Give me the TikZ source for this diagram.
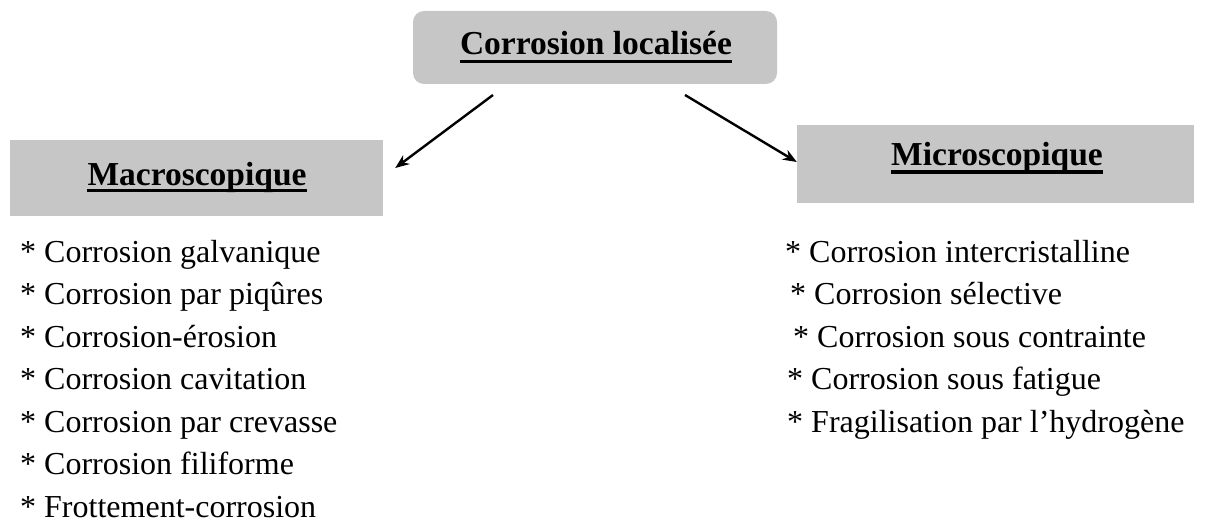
\documentclass[tikz,border=0pt]{standalone}
\usepackage{fontspec}
\setmainfont{Liberation Serif}
\usetikzlibrary{arrows.meta,calc}
\definecolor{boxgray}{RGB}{198,198,198}
\tikzset{
  graybox/.style={fill=boxgray,draw=none,inner sep=0pt},
  headtext/.style={inner sep=0pt,anchor=base,font=\fontsize{33.5}{38}\selectfont\bfseries},
  itemtext/.style={inner sep=0pt,anchor=base west,font=\fontsize{32}{36}\selectfont},
  uline/.style={line width=3.5pt},
  conn/.style={line width=2.4pt,-{Stealth[length=14pt,width=11pt]}}
}
\begin{document}
\begin{tikzpicture}[x=1pt,y=-1pt]
\useasboundingbox (0,0) rectangle (1207,532);
% boxes
\path[graybox,rounded corners=11pt] (413,11) rectangle (777,84);
\node[graybox,minimum width=373pt,minimum height=76pt] (macro) at (196.5,178) {};
\node[graybox,minimum width=397pt,minimum height=78pt] (micro) at (995.5,164) {};
\coordinate (topbox) at (595,47.5);
% headings
\node[headtext] (title) at (596,55) {Corrosion localisée};
\node[headtext] (macrot) at (197,185) {Macroscopique};
\node[headtext] (microt) at (997,165) {Microscopique};
\draw[uline] ($(title.base west)+(0,6.5)$) -- ($(title.base east)+(0,6.5)$);
\draw[uline] ($(macrot.base west)+(0,5.5)$) -- ($(macrot.base east)+(0,5.5)$);
\draw[uline] ($(microt.base west)+(0,7)$) -- ($(microt.base east)+(0,7)$);
% connectors
\coordinate (s1) at ($(topbox)+(-102,47.5)$);
\coordinate (s2) at ($(topbox)+(90,47.5)$);
\coordinate (e1) at ($(macro.east)+(12,-10)$);
\draw[conn] (s1) -- (e1);
\draw[conn] (s2) -- ($(micro.west)+(0,-2)$);
% left list
\node[itemtext] (l1) at (20,262) {* Corrosion galvanique};
\node[itemtext] (l2) at (20,304.5) {* Corrosion par piqûres};
\node[itemtext] (l3) at (20,347) {* Corrosion-érosion};
\node[itemtext] (l4) at (20,389.5) {* Corrosion cavitation};
\node[itemtext] (l5) at (20,432) {* Corrosion par crevasse};
\node[itemtext] (l6) at (20,474.5) {* Corrosion filiforme};
\node[itemtext] (l7) at (20,517) {* Frottement-corrosion};
% right list
\node[itemtext] (r1) at (785,262) {* Corrosion intercristalline};
\node[itemtext] (r2) at (790,304.5) {* Corrosion sélective};
\node[itemtext] (r3) at (793,347) {* Corrosion sous contrainte};
\node[itemtext] (r4) at (787,389.5) {* Corrosion sous fatigue};
\node[itemtext] (r5) at (787,432) {* Fragilisation par l’hydrogène};
\end{tikzpicture}
\end{document}
